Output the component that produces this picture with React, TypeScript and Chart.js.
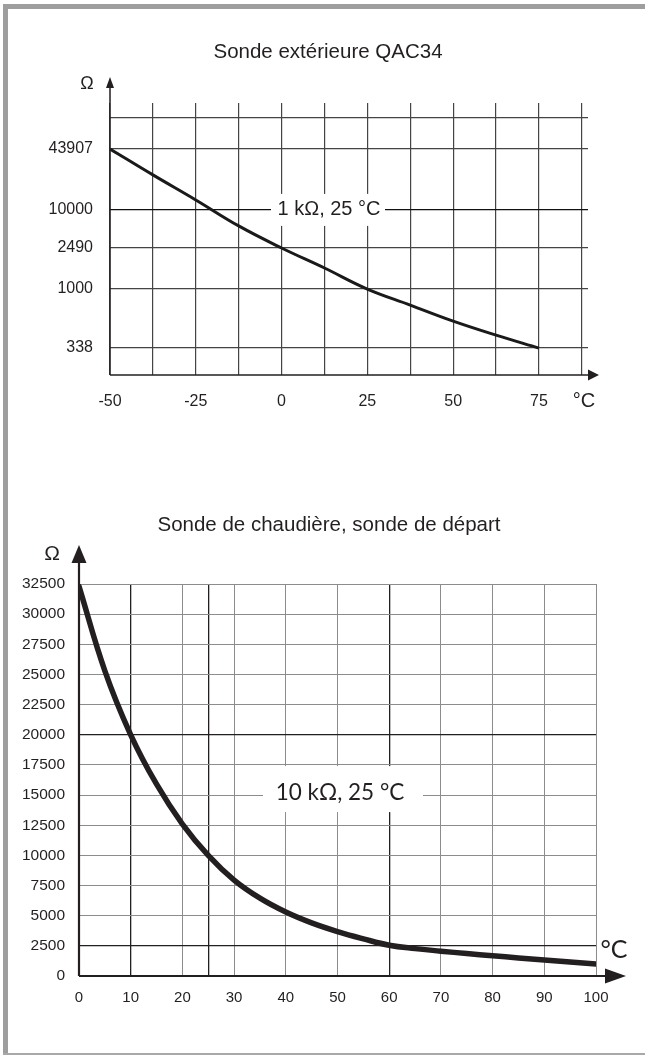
import React, { useEffect, useRef } from 'react';
import { Chart, registerables, Scale } from 'chart.js';

// ---------------- Sonde extérieure QAC34 ----------------
const qacTemperatures = [-50, -37.5, -25, -12.5, 0, 12.5, 25, 37.5, 50, 62.5, 75];
const qacResistances = [43907, 23400, 12740, 5570, 2490, 1596, 1000, 745, 555, 429, 338];
const qacOhmLabels = [338, 1000, 2490, 10000, 43907];
const qacOhmExtraGrid = [100000];
const qacTempGrid = [-50, -37.5, -25, -12.5, 0, 12.5, 25, 37.5, 50, 62.5, 75, 87.5];
const qacTempLabels = [-50, -25, 0, 25, 50, 75];

// ---------------- Sonde de chaudière, sonde de départ ----------------
const ntcTemperatures = [0, 5, 10, 15, 20, 25, 30, 35, 40, 45, 50, 55, 60, 65, 70, 75, 80, 85, 90, 95, 100];
const ntcResistances = [32300, 25300, 20000, 15900, 12600, 10000, 7950, 6450, 5300, 4400, 3680, 3080, 2550, 2270, 2060, 1860, 1680, 1500, 1330, 1160, 1000];
const ntcOhmTicks = [0, 2500, 5000, 7500, 10000, 12500, 15000, 17500, 20000, 22500, 25000, 27500, 30000, 32500];
const ntcTempGrid = [0, 10, 20, 25, 30, 40, 50, 60, 70, 80, 90, 100];
const ntcTempLabels = [0, 10, 20, 30, 40, 50, 60, 70, 80, 90, 100];
const ntcMarkedTemps = [10, 25, 60];
const ntcMarkedOhms = [2500, 20000];

// Layout of the schematic (non-uniform) ohm axis: fraction of axis height for each stop.
const qacAxisStops = [
  { ohm: 200, at: 0 },
  { ohm: 338, at: 0.099 },
  { ohm: 1000, at: 0.316 },
  { ohm: 2490, at: 0.467 },
  { ohm: 10000, at: 0.607 },
  { ohm: 43907, at: 0.831 },
  { ohm: 100000, at: 0.945 },
  { ohm: 150000, at: 1 },
];

function ohmToFraction(v: number): number {
  const s = qacAxisStops;
  const lv = Math.log10(Math.max(v, 1e-9));
  let i = 0;
  while (i < s.length - 2 && lv > Math.log10(s[i + 1].ohm)) i++;
  const a = Math.log10(s[i].ohm);
  const b = Math.log10(s[i + 1].ohm);
  return s[i].at + ((lv - a) / (b - a)) * (s[i + 1].at - s[i].at);
}

function fractionToOhm(f: number): number {
  const s = qacAxisStops;
  let i = 0;
  while (i < s.length - 2 && f > s[i + 1].at) i++;
  const a = Math.log10(s[i].ohm);
  const b = Math.log10(s[i + 1].ohm);
  const t = (f - s[i].at) / (s[i + 1].at - s[i].at);
  return Math.pow(10, a + t * (b - a));
}

class SchematicOhmScale extends Scale {
  static id = 'schematicOhm';
  static defaults = {};
  determineDataLimits() {
    this.min = qacAxisStops[0].ohm;
    this.max = qacAxisStops[qacAxisStops.length - 1].ohm;
  }
  buildTicks() {
    return [...qacOhmLabels, ...qacOhmExtraGrid].map((v) => ({ value: v }));
  }
  getLabelForValue(value: number) {
    return String(value);
  }
  getPixelForValue(value: number) {
    return this.getPixelForDecimal(ohmToFraction(value));
  }
  getValueForPixel(pixel: number) {
    return fractionToOhm(this.getDecimalForPixel(pixel));
  }
}

Chart.register(...registerables, SchematicOhmScale as any);

const SANS = '"Liberation Sans", Arial, Helvetica, sans-serif';
const HUMAN = 'Lato, "Open Sans", sans-serif';
const INK = '#231f20';

function arrowUp(ctx: CanvasRenderingContext2D, x: number, tipY: number, len: number, halfW: number) {
  ctx.beginPath();
  ctx.moveTo(x, tipY);
  ctx.lineTo(x - halfW, tipY + len);
  ctx.lineTo(x + halfW, tipY + len);
  ctx.closePath();
  ctx.fill();
}
function arrowRight(ctx: CanvasRenderingContext2D, tipX: number, y: number, len: number, halfH: number) {
  ctx.beginPath();
  ctx.moveTo(tipX, y);
  ctx.lineTo(tipX - len, y - halfH);
  ctx.lineTo(tipX - len, y + halfH);
  ctx.closePath();
  ctx.fill();
}

const qacOverlay = {
  id: 'qacOverlay',
  afterDatasetsDraw(chart: any) {
    const { ctx, chartArea: a } = chart;
    const yS = chart.scales.y;
    ctx.save();
    // label box on the 10000 line
    const ly = yS.getPixelForValue(10000);
    ctx.fillStyle = '#fff';
    ctx.fillRect(271, ly - 16, 114, 32);
    ctx.fillStyle = INK;
    ctx.font = `20px ${SANS}`;
    ctx.textAlign = 'center';
    ctx.textBaseline = 'middle';
    ctx.fillText('1 kΩ, 25 °C', 329, ly);
    // axes
    ctx.strokeStyle = INK;
    ctx.lineWidth = 1.5;
    ctx.beginPath();
    ctx.moveTo(a.left, a.bottom);
    ctx.lineTo(a.left, 88);
    ctx.moveTo(a.left, a.bottom);
    ctx.lineTo(590, a.bottom);
    ctx.stroke();
    arrowUp(ctx, a.left, 77, 11, 4);
    arrowRight(ctx, 599, a.bottom, 11, 5.5);
    // texts
    ctx.font = `20.5px ${SANS}`;
    ctx.fillText('Sonde extérieure QAC34', 328, 52);
    ctx.font = `18px ${SANS}`;
    ctx.fillText('Ω', 87, 84);
    ctx.font = `20px ${SANS}`;
    ctx.fillText('°C', 584, 401);
    ctx.restore();
  },
};

const ntcOverlay = {
  id: 'ntcOverlay',
  afterDatasetsDraw(chart: any) {
    const { ctx, chartArea: a } = chart;
    const yS = chart.scales.y;
    ctx.save();
    const ly = yS.getPixelForValue(15000);
    ctx.fillStyle = '#fff';
    ctx.fillRect(263, ly - 29, 160, 46);
    ctx.fillStyle = INK;
    ctx.font = `22.5px ${HUMAN}`;
    ctx.textAlign = 'center';
    ctx.textBaseline = 'middle';
    ctx.fillText('10 kΩ, 25 °C', 340, ly - 2);
    // axes
    ctx.strokeStyle = INK;
    ctx.lineWidth = 2.2;
    ctx.beginPath();
    ctx.moveTo(a.left, a.bottom);
    ctx.lineTo(a.left, 83);
    ctx.moveTo(a.left, a.bottom);
    ctx.lineTo(607, a.bottom);
    ctx.stroke();
    arrowUp(ctx, a.left, 65, 18, 7.5);
    arrowRight(ctx, 626, a.bottom, 21, 7.5);
    // texts
    ctx.font = `20.5px ${SANS}`;
    ctx.fillText('Sonde de chaudière, sonde de départ', 329, 45);
    ctx.font = `21px ${SANS}`;
    ctx.fillText('Ω', 52, 74);
    ctx.font = `25px ${HUMAN}`;
    ctx.fillText('°C', 614, 470);
    ctx.restore();
  },
};

function qacConfig(): any {
  return {
    type: 'line',
    data: {
      datasets: [
        {
          data: qacTemperatures.map((t, i) => ({ x: t, y: qacResistances[i] })),
          borderColor: '#1a1a1a',
          borderWidth: 3,
          pointRadius: 0,
          tension: 0.4,
          borderCapStyle: 'butt',
        },
      ],
    },
    options: {
      animation: false,
      responsive: true,
      maintainAspectRatio: false,
      events: [],
      layout: { padding: { left: 40, right: 57, top: 103, bottom: 25 } },
      plugins: { legend: { display: false }, tooltip: { enabled: false }, title: { display: false } },
      scales: {
        x: {
          type: 'linear',
          min: -50,
          max: 89.3,
          afterBuildTicks: (s: any) => {
            s.ticks = qacTempGrid.map((v) => ({ value: v }));
          },
          afterFit: (s: any) => {
            s.height = 40;
          },
          border: { display: false },
          grid: { color: '#444', lineWidth: 1.2, drawTicks: false },
          ticks: {
            autoSkip: false,
            maxRotation: 0,
            padding: 17,
            color: INK,
            font: { family: SANS, size: 16 },
            callback: (v: number) => (qacTempLabels.includes(v) ? String(v) : ''),
          },
        },
        y: {
          type: 'schematicOhm',
          afterFit: (s: any) => {
            s.width = 70;
          },
          border: { display: false },
          grid: {
            color: (c: any) => (c.tick && c.tick.value === 10000 ? '#111' : '#444'),
            lineWidth: 1.2,
            drawTicks: false,
          },
          ticks: {
            autoSkip: false,
            padding: 17,
            color: INK,
            font: { family: SANS, size: 16 },
            callback: (v: number) => (qacOhmLabels.includes(v) ? String(v) : ''),
          },
        },
      },
    },
    plugins: [qacOverlay],
  };
}

function ntcConfig(): any {
  return {
    type: 'line',
    data: {
      datasets: [
        {
          data: ntcTemperatures.map((t, i) => ({ x: t, y: ntcResistances[i] })),
          borderColor: INK,
          borderWidth: 5.5,
          pointRadius: 0,
          tension: 0.4,
          borderCapStyle: 'round',
        },
      ],
    },
    options: {
      animation: false,
      responsive: true,
      maintainAspectRatio: false,
      events: [],
      layout: { padding: { left: 19, right: 49, top: 104, bottom: 29 } },
      plugins: { legend: { display: false }, tooltip: { enabled: false }, title: { display: false } },
      scales: {
        x: {
          type: 'linear',
          min: 0,
          max: 100,
          afterBuildTicks: (s: any) => {
            s.ticks = ntcTempGrid.map((v) => ({ value: v }));
          },
          afterFit: (s: any) => {
            s.height = 35;
          },
          border: { display: false },
          grid: {
            color: (c: any) => (c.tick && ntcMarkedTemps.includes(c.tick.value) ? INK : '#8c8c8c'),
            lineWidth: (c: any) => (c.tick && ntcMarkedTemps.includes(c.tick.value) ? 1.3 : 1),
            drawTicks: false,
          },
          ticks: {
            autoSkip: false,
            maxRotation: 0,
            padding: 13,
            color: INK,
            font: { family: SANS, size: 15 },
            callback: (v: number) => (ntcTempLabels.includes(v) ? String(v) : ''),
          },
        },
        y: {
          type: 'linear',
          min: 0,
          max: 32500,
          afterBuildTicks: (s: any) => {
            s.ticks = ntcOhmTicks.map((v) => ({ value: v }));
          },
          afterFit: (s: any) => {
            s.width = 60;
          },
          border: { display: false },
          grid: {
            color: (c: any) => (c.tick && ntcMarkedOhms.includes(c.tick.value) ? INK : '#8c8c8c'),
            lineWidth: (c: any) => (c.tick && ntcMarkedOhms.includes(c.tick.value) ? 1.3 : 1),
            drawTicks: false,
          },
          ticks: {
            autoSkip: false,
            padding: 14,
            color: INK,
            font: { family: SANS, size: 15.5 },
            callback: (v: number) => String(v),
          },
        },
      },
    },
    plugins: [ntcOverlay],
  };
}

export default function App() {
  const topRef = useRef<HTMLCanvasElement>(null);
  const botRef = useRef<HTMLCanvasElement>(null);

  useEffect(() => {
    const c1 = new Chart(topRef.current as HTMLCanvasElement, qacConfig());
    const c2 = new Chart(botRef.current as HTMLCanvasElement, ntcConfig());
    return () => {
      c1.destroy();
      c2.destroy();
    };
  }, []);

  const frame = '#9e9e9e';
  return (
    <div style={{ position: 'absolute', left: 0, top: 0, width: 645, height: 1055, background: '#fff', overflow: 'hidden' }}>
      <div style={{ position: 'absolute', left: 3, top: 4, width: 642, height: 5, background: frame }} />
      <div style={{ position: 'absolute', left: 3, top: 4, width: 5, height: 1051, background: frame }} />
      <div style={{ position: 'absolute', left: 3, top: 1053, width: 642, height: 1.5, background: '#a8a8a8' }} />
      <div style={{ position: 'absolute', left: 0, top: 0, width: 645, height: 440 }}>
        <canvas ref={topRef} />
      </div>
      <div style={{ position: 'absolute', left: 0, top: 480, width: 645, height: 560 }}>
        <canvas ref={botRef} />
      </div>
    </div>
  );
}
